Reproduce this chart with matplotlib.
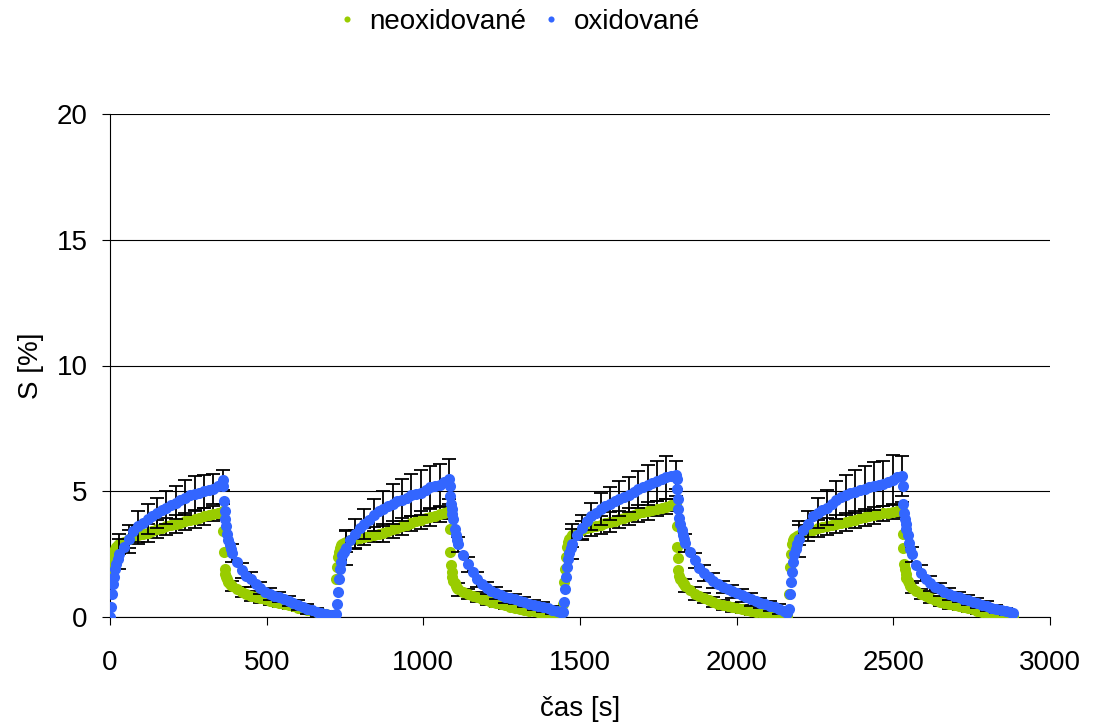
import numpy as np
import matplotlib.pyplot as plt

plt.rcParams['font.family'] = ['Liberation Sans', 'DejaVu Sans']

# začátky jednotlivých cyklů [s]
cycle_start = [0, 722, 1446, 2168]

# časy měření uvnitř cyklu [s]
offsets = [0, 3, 6, 9, 12, 16, 20, 25, 30, 45, 60, 75, 90, 105, 120, 135, 150,
           165, 180, 195, 210, 225, 240, 255, 270, 285, 300, 315, 330, 345, 360,
           362, 364, 366, 368, 371, 374, 378, 382, 386, 390, 405, 420, 435, 450,
           465, 480, 495, 510, 525, 540, 555, 570, 585, 600, 615, 630, 645, 660,
           675, 690, 705, 715]

# neoxidované (zelená)
neox_c1 = [1.6, 2.0, 2.3, 2.5, 2.6, 2.7, 2.8, 2.85, 2.9, 3.0, 3.1, 3.2, 3.25, 3.3,
           3.35, 3.4, 3.5, 3.55, 3.6, 3.65, 3.7, 3.75, 3.8, 3.85, 3.9, 3.95, 4.0,
           4.05, 4.1, 4.15, 4.2,
           3.4, 2.6, 1.9, 1.7, 1.6, 1.5, 1.4, 1.33, 1.27, 1.22, 1.1, 1.0, 0.92,
           0.85, 0.8, 0.75, 0.7, 0.65, 0.6, 0.55, 0.5, 0.46, 0.42, 0.37, 0.33,
           0.28, 0.24, 0.2, 0.16, 0.12, 0.09, 0.07]
neox_c2 = [1.5, 2.0, 2.4, 2.6, 2.75, 2.85, 2.9, 2.95, 3.0, 3.05, 3.1, 3.15, 3.2,
           3.23, 3.27, 3.3, 3.35, 3.42, 3.48, 3.55, 3.6, 3.67, 3.73, 3.8, 3.85,
           3.92, 3.97, 4.03, 4.08, 4.15, 4.2,
           3.5, 2.6, 2.05, 1.8, 1.6, 1.45, 1.35, 1.25, 1.17, 1.1, 1.0, 0.92, 0.85,
           0.78, 0.72, 0.67, 0.61, 0.56, 0.5, 0.46, 0.41, 0.37, 0.33, 0.29, 0.25,
           0.22, 0.18, 0.15, 0.12, 0.1, 0.08, 0.06]
neox_c3 = [0.5, 1.4, 1.9, 2.4, 2.8, 3.0, 3.1, 3.2, 3.25, 3.35, 3.45, 3.52, 3.57,
           3.62, 3.66, 3.72, 3.78, 3.83, 3.88, 3.94, 4.0, 4.06, 4.12, 4.17, 4.22,
           4.27, 4.31, 4.35, 4.39, 4.44, 4.5,
           3.6, 2.8, 2.35, 1.85, 1.65, 1.5, 1.42, 1.37, 1.32, 1.25, 1.07, 0.93,
           0.82, 0.74, 0.66, 0.59, 0.53, 0.48, 0.43, 0.39, 0.35, 0.31, 0.27, 0.24,
           0.21, 0.18, 0.15, 0.12, 0.1, 0.08, 0.06, 0.05]
neox_c4 = [0.9, 2.0, 2.5, 2.9, 3.05, 3.15, 3.2, 3.23, 3.26, 3.35, 3.42, 3.47, 3.52,
           3.57, 3.6, 3.65, 3.7, 3.74, 3.78, 3.82, 3.87, 3.92, 3.96, 4.0, 4.04,
           4.08, 4.12, 4.15, 4.18, 4.22, 4.26,
           3.3, 2.75, 2.1, 1.9, 1.7, 1.55, 1.45, 1.35, 1.25, 1.17, 1.02, 0.9, 0.82,
           0.74, 0.67, 0.61, 0.56, 0.51, 0.46, 0.42, 0.38, 0.34, 0.3, 0.25, 0.2,
           0.16, 0.12, 0.09, 0.07, 0.05, 0.04, 0.03]

# oxidované (modrá)
ox_c1 = [0.0, 0.4, 0.9, 1.3, 1.6, 1.9, 2.1, 2.3, 2.5, 2.8, 3.1, 3.4, 3.6, 3.75,
         3.9, 4.0, 4.15, 4.25, 4.35, 4.45, 4.55, 4.65, 4.75, 4.85, 4.9, 4.95, 5.0,
         5.05, 5.1, 5.2, 5.45,
         5.2, 4.6, 4.2, 3.9, 3.6, 3.3, 3.05, 2.85, 2.7, 2.55, 2.2, 1.85, 1.65, 1.5,
         1.3, 1.15, 1.0, 0.92, 0.85, 0.78, 0.7, 0.62, 0.55, 0.48, 0.4, 0.33, 0.27,
         0.2, 0.15, 0.1, 0.07, 0.05]
ox_c2 = [0.1, 0.5, 1.0, 1.5, 1.9, 2.2, 2.45, 2.6, 2.75, 3.05, 3.3, 3.55, 3.7, 3.85,
         4.05, 4.2, 4.3, 4.4, 4.5, 4.6, 4.65, 4.75, 4.85, 4.9, 4.95, 5.05, 5.15,
         5.2, 5.25, 5.35, 5.5,
         5.2, 4.8, 4.5, 4.3, 4.1, 3.9, 3.5, 3.25, 3.05, 2.9, 2.45, 2.1, 1.8, 1.5,
         1.3, 1.15, 1.05, 0.95, 0.87, 0.8, 0.74, 0.7, 0.64, 0.58, 0.53, 0.48, 0.44,
         0.4, 0.35, 0.28, 0.22, 0.18]
ox_c3 = [0.2, 0.6, 1.1, 1.6, 2.0, 2.3, 2.55, 2.75, 2.9, 3.25, 3.55, 3.8, 4.0, 4.15,
         4.3, 4.4, 4.5, 4.6, 4.7, 4.78, 4.87, 4.97, 5.07, 5.15, 5.25, 5.33, 5.4,
         5.47, 5.55, 5.6, 5.65,
         5.5, 5.1, 4.7, 4.3, 3.95, 3.7, 3.45, 3.25, 3.1, 2.95, 2.6, 2.25, 1.95,
         1.75, 1.6, 1.45, 1.32, 1.2, 1.1, 1.02, 0.95, 0.86, 0.78, 0.7, 0.62, 0.55,
         0.5, 0.45, 0.4, 0.33, 0.22, 0.15]
ox_c4 = [0.3, 0.9, 1.4, 1.8, 2.2, 2.5, 2.7, 2.9, 3.1, 3.45, 3.7, 4.0, 4.15, 4.25,
         4.35, 4.5, 4.65, 4.78, 4.85, 4.92, 4.98, 5.05, 5.1, 5.15, 5.2, 5.25, 5.3,
         5.35, 5.45, 5.55, 5.6,
         5.2, 4.5, 4.15, 3.9, 3.7, 3.5, 3.25, 2.95, 2.7, 2.5, 2.05, 1.75, 1.52,
         1.35, 1.2, 1.1, 1.0, 0.92, 0.85, 0.78, 0.72, 0.66, 0.6, 0.55, 0.48, 0.42,
         0.36, 0.31, 0.26, 0.22, 0.18, 0.15]

# chybové úsečky (směrodatné odchylky) v časech 30, 60, ..., 690 s cyklu
err_offsets = [30, 60, 90, 120, 150, 180, 210, 240, 270, 300, 330, 360,
               390, 420, 450, 480, 510, 540, 570, 600, 630, 660, 690]
neox_err = [
    [0.4, 0.35, 0.35, 0.35, 0.35, 0.35, 0.35, 0.35, 0.35, 0.35, 0.3, 0.3,
     0.2, 0.2, 0.2, 0.18, 0.18, 0.15, 0.15, 0.15, 0.12, 0.12, 0.1],
    [0.4, 0.35, 0.35, 0.3, 0.35, 0.35, 0.35, 0.3, 0.35, 0.35, 0.3, 0.3,
     0.25, 0.2, 0.2, 0.2, 0.18, 0.15, 0.15, 0.15, 0.12, 0.12, 0.1],
    [0.45, 0.35, 0.35, 0.35, 0.4, 0.35, 0.35, 0.35, 0.35, 0.3, 0.3, 0.3,
     0.25, 0.25, 0.2, 0.2, 0.2, 0.18, 0.15, 0.15, 0.15, 0.12, 0.1],
    [0.4, 0.4, 0.35, 0.35, 0.35, 0.35, 0.35, 0.35, 0.35, 0.3, 0.3, 0.3,
     0.2, 0.2, 0.2, 0.18, 0.18, 0.15, 0.15, 0.12, 0.12, 0.1, 0.1],
]
ox_err = [
    [0.6, 0.55, 0.6, 0.6, 0.6, 0.65, 0.65, 0.7, 0.7, 0.65, 0.6, 0.4,
     0.35, 0.3, 0.3, 0.25, 0.25, 0.2, 0.2, 0.2, 0.2, 0.15, 0.15],
    [0.7, 0.6, 0.6, 0.65, 0.7, 0.8, 0.85, 0.85, 0.9, 0.85, 0.85, 0.8,
     0.3, 0.3, 0.3, 0.25, 0.25, 0.25, 0.2, 0.2, 0.2, 0.2, 0.15],
    [0.6, 0.5, 0.55, 0.65, 0.65, 0.7, 0.7, 0.75, 0.8, 0.8, 0.85, 0.55,
     0.35, 0.3, 0.3, 0.3, 0.25, 0.25, 0.25, 0.25, 0.2, 0.2, 0.2],
    [0.7, 0.5, 0.6, 0.7, 0.75, 0.8, 0.85, 0.9, 0.95, 0.9, 1.0, 0.8,
     0.3, 0.3, 0.3, 0.25, 0.25, 0.2, 0.2, 0.2, 0.2, 0.15, 0.15],
]

GREEN = '#99CC00'
BLUE = '#3366FF'

neox_cycles = [neox_c1, neox_c2, neox_c3, neox_c4]
ox_cycles = [ox_c1, ox_c2, ox_c3, ox_c4]

off = np.array(offsets)
err_idx = [offsets.index(o) for o in err_offsets]

t_all = np.concatenate([s + off for s in cycle_start])
neox = np.concatenate(neox_cycles)
ox = np.concatenate(ox_cycles)
t_err = np.concatenate([s + off[err_idx] for s in cycle_start])
neox_e_y = np.concatenate([np.array(c)[err_idx] for c in neox_cycles])
ox_e_y = np.concatenate([np.array(c)[err_idx] for c in ox_cycles])
neox_e = np.concatenate(neox_err)
ox_e = np.concatenate(ox_err)

fig = plt.figure(figsize=(10.93, 7.24), dpi=100)
ax = fig.add_axes([110 / 1093, 107 / 724, 940 / 1093, 503 / 724])

ax.errorbar(t_err, neox_e_y, yerr=neox_e, fmt='none', ecolor='black',
            elinewidth=1.3, capsize=5, capthick=1.3, zorder=2)
ax.plot(t_all, neox, 'o', color=GREEN, markersize=8, markeredgewidth=0,
        label='neoxidované', zorder=3)
ax.errorbar(t_err, ox_e_y, yerr=ox_e, fmt='none', ecolor='black',
            elinewidth=1.3, capsize=5, capthick=1.3, zorder=4)
ax.plot(t_all, ox, 'o', color=BLUE, markersize=8, markeredgewidth=0,
        label='oxidované', zorder=5)

ax.set_xlim(0, 3000)
ax.set_ylim(0, 20)
ax.set_xticks([0, 500, 1000, 1500, 2000, 2500, 3000])
ax.set_yticks([0, 5, 10, 15, 20])
ax.yaxis.grid(True, color='black', linewidth=0.8)
ax.set_axisbelow(True)
for side in ['top', 'right']:
    ax.spines[side].set_visible(False)
for side in ['left', 'bottom']:
    ax.spines[side].set_linewidth(0.8)
ax.tick_params(axis='both', direction='out', length=6, width=0.8,
               labelsize=20)
ax.tick_params(axis='x', pad=18)
ax.tick_params(axis='y', pad=10)
ax.set_xlabel('čas [s]', fontsize=20, labelpad=14)
ax.set_ylabel('S [%]', fontsize=20, labelpad=9)

fig.legend(loc='center', bbox_to_anchor=(518 / 1093, 1 - 22 / 724), ncol=2,
           frameon=False, fontsize=20, markerscale=0.55, handlelength=0.8,
           handletextpad=0.4, columnspacing=0.5)

fig.savefig('out.png', dpi=100)
